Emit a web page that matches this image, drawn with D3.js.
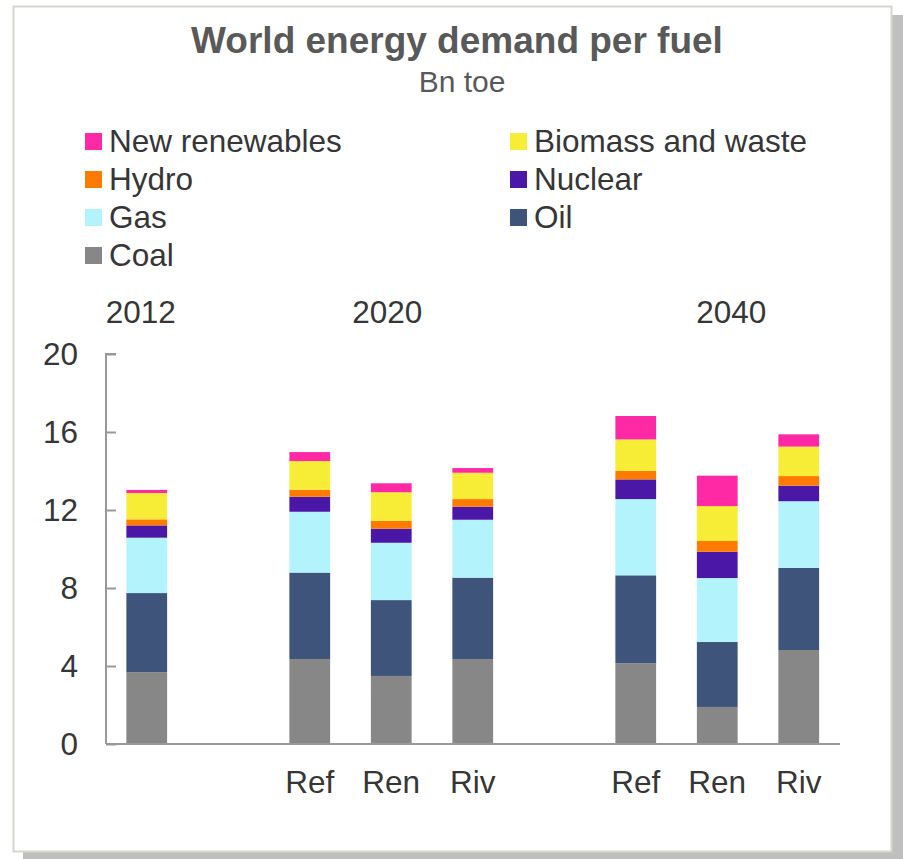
<!DOCTYPE html>
<html>
<head>
<meta charset="utf-8">
<script src="https://cdn.jsdelivr.net/npm/d3@7"></script>
<style>
  body { margin: 0; background: #ffffff; }
  text { font-family: "Liberation Sans", Arial, sans-serif; }
</style>
</head>
<body>
<div id="chart"></div>
<script>
// Bar slots along the x axis (empty slots make the gaps between years)
const slots = ["2012", "gapA", "2020 Ref", "2020 Ren", "2020 Riv", "gapB", "2040 Ref", "2040 Ren", "2040 Riv"];
const bars = ["2012", "2020 Ref", "2020 Ren", "2020 Riv", "2040 Ref", "2040 Ren", "2040 Riv"];
const scenarioLabels = ["", "Ref", "Ren", "Riv", "Ref", "Ren", "Riv"];
const years = ["2012", "2020", "2040"];
const yearAnchor = ["2012", "2020 Ren", "2040 Ren"];

// Fuels, bottom to top (Bn toe)
const fuels = ["Coal", "Oil", "Gas", "Nuclear", "Hydro", "Biomass and waste", "New renewables"];
const coal      = [3.68, 4.36, 3.49, 4.36, 4.14, 1.90, 4.82];
const oil       = [4.06, 4.43, 3.89, 4.17, 4.51, 3.33, 4.21];
const gas       = [2.84, 3.12, 2.94, 2.97, 3.91, 3.28, 3.42];
const nuclear   = [0.63, 0.77, 0.72, 0.67, 1.01, 1.35, 0.80];
const hydro     = [0.31, 0.36, 0.40, 0.39, 0.44, 0.55, 0.49];
const biomass   = [1.35, 1.47, 1.47, 1.35, 1.61, 1.79, 1.51];
const renewable = [0.16, 0.46, 0.46, 0.24, 1.20, 1.56, 0.63];
const yTicks = [0, 4, 8, 12, 16, 20];

const colors = ["#878787", "#3f547a", "#b3f3fb", "#4b17a6", "#ff7b00", "#f7ec36", "#ff28a5"];

// Legend order as in the picture (two columns)
const legendItems = ["New renewables", "Biomass and waste", "Hydro", "Nuclear", "Gas", "Oil", "Coal"];

const width = 903;
const height = 859;

const svg = d3.select("#chart")
  .append("svg")
    .attr("width", width)
    .attr("height", height);

// ------ Frame with shadow ------ //
svg.append("rect")
  .attr("x", 23).attr("y", 15)
  .attr("width", width - 23).attr("height", height - 15)
  .attr("fill", "#bfbfbf");
svg.append("rect")
  .attr("x", 13.5).attr("y", 6.5)
  .attr("width", 878).attr("height", 845)
  .attr("fill", "#ffffff")
  .attr("stroke", "#d8d5cf")
  .attr("stroke-width", 2);

// ------ Title ------ //
svg.append("text")
  .text("World energy demand per fuel")
  .attr("x", 457).attr("y", 53)
  .attr("text-anchor", "middle")
  .attr("font-size", 37)
  .attr("font-weight", "bold")
  .attr("fill", "#595959");
svg.append("text")
  .text("Bn toe")
  .attr("x", 462).attr("y", 92)
  .attr("text-anchor", "middle")
  .attr("font-size", 30)
  .attr("fill", "#595959");

// ------ Legend ------ //
const legend = svg.append("g");
legendItems.forEach((name, i) => {
  const col = i % 2;
  const row = Math.floor(i / 2);
  const g = legend.append("g")
    .attr("transform", `translate(${col === 0 ? 85 : 510}, ${152 + row * 38})`);
  g.append("rect")
    .attr("x", 0).attr("y", -19)
    .attr("width", 17).attr("height", 17)
    .attr("fill", colors[fuels.indexOf(name)]);
  g.append("text")
    .text(name)
    .attr("x", 24).attr("y", 0)
    .attr("font-size", 31.5)
    .attr("fill", "#363636");
});

// ------ Scales ------ //
const x = d3.scaleBand()
  .domain(slots)
  .range([106, 839.5])
  .paddingInner(0.5)
  .paddingOuter(0.25);

const y = d3.scaleLinear()
  .domain([0, 20])
  .range([744, 354]);

// ------ Stacked bars ------ //
const table = bars.map((b, i) => ({
  bar: b,
  "Coal": coal[i],
  "Oil": oil[i],
  "Gas": gas[i],
  "Nuclear": nuclear[i],
  "Hydro": hydro[i],
  "Biomass and waste": biomass[i],
  "New renewables": renewable[i]
}));
const series = d3.stack().keys(fuels)(table);

svg.append("g")
  .selectAll("g")
  .data(series)
  .join("g")
    .attr("fill", (d, i) => colors[i])
  .selectAll("rect")
  .data(d => d)
  .join("rect")
    .attr("x", d => x(d.data.bar))
    .attr("width", x.bandwidth())
    .attr("y", d => y(d[1]))
    .attr("height", d => y(d[0]) - y(d[1]));

// ------ Axes ------ //
const yAxis = svg.append("g")
  .attr("transform", "translate(106, 0)")
  .call(d3.axisRight(y).tickValues(yTicks).tickSize(10).tickFormat(d3.format("d")));
yAxis.select(".domain").attr("stroke", "#999999").attr("stroke-width", 2)
  .attr("d", "M10,354H0V744");
yAxis.selectAll(".tick line").attr("stroke", "#999999").attr("stroke-width", 2);
yAxis.selectAll(".tick text")
  .attr("x", -28)
  .attr("text-anchor", "end")
  .attr("font-size", 31.5)
  .attr("font-family", "Liberation Sans, Arial, sans-serif")
  .attr("fill", "#363636");

svg.append("line")
  .attr("x1", 106).attr("x2", 840)
  .attr("y1", y(0)).attr("y2", y(0))
  .attr("stroke", "#999999")
  .attr("stroke-width", 2);

// Scenario labels under the bars
svg.append("g")
  .selectAll("text")
  .data(bars)
  .join("text")
    .text((d, i) => scenarioLabels[i])
    .attr("x", d => x(d) + x.bandwidth() / 2)
    .attr("y", 793)
    .attr("text-anchor", "middle")
    .attr("font-size", 31.5)
    .attr("fill", "#363636");

// Year labels above the bars
const yearOffset = [-6, -4, 14];
svg.append("g")
  .selectAll("text")
  .data(years)
  .join("text")
    .text(d => d)
    .attr("x", (d, i) => x(yearAnchor[i]) + x.bandwidth() / 2 + yearOffset[i])
    .attr("y", 323)
    .attr("text-anchor", "middle")
    .attr("font-size", 31.5)
    .attr("fill", "#363636");
</script>
</body>
</html>
